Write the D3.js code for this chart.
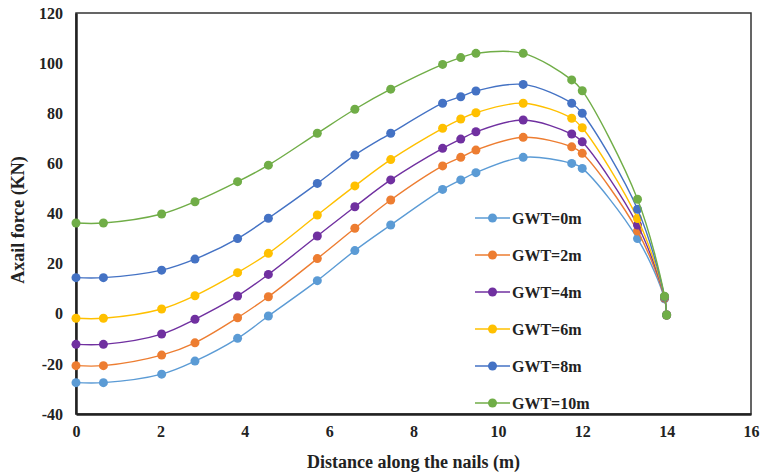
<!DOCTYPE html>
<html>
<head>
<meta charset="utf-8">
<script src="https://cdn.jsdelivr.net/npm/d3@7"></script>
<style>
  body { margin: 0; background: #fff; }
  text { font-family: "Liberation Serif", "Times New Roman", serif; font-weight: bold; fill: #222; }
</style>
</head>
<body>
<script>
const distance = [0, 0.65, 2.03, 2.82, 3.83, 4.56, 5.72, 6.61, 7.46, 8.69, 9.12, 9.48, 10.6, 11.75, 12.0, 13.31, 13.95, 14.0];

const gwt0  = [-27.5, -27.5, -24.1, -18.9, -9.8, -0.9, 13.2, 25.2, 35.4, 49.6, 53.4, 56.3, 62.4, 60, 58, 30, 6, -0.5];
const gwt2  = [-20.7, -20.7, -16.5, -11.6, -1.6, 6.8, 22, 34.1, 45.4, 59, 62.4, 65.3, 70.4, 66.6, 64, 33, 6.3, -0.5];
const gwt4  = [-12.2, -12.2, -8.1, -2.2, 7.1, 15.7, 31, 42.7, 53.4, 66, 69.7, 72.6, 77.3, 71.7, 68.6, 35.4, 6.5, -0.5];
const gwt6  = [-1.8, -1.8, 1.9, 7.2, 16.4, 24.1, 39.4, 51, 61.5, 74, 77.7, 80.2, 84, 78, 74.2, 38, 6.7, -0.5];
const gwt8  = [14.4, 14.4, 17.4, 21.8, 30, 38.1, 52, 63.3, 72, 84, 86.6, 88.9, 91.5, 84, 80, 41.7, 6.8, -0.5];
const gwt10 = [36.2, 36.2, 39.8, 44.7, 52.7, 59.3, 72, 81.6, 89.6, 99.5, 102.2, 103.9, 103.9, 93.3, 89, 45.7, 7, -0.5];

const seriesNames = ["GWT=0m", "GWT=2m", "GWT=4m", "GWT=6m", "GWT=8m", "GWT=10m"];
const seriesColors = ["#5B9BD5", "#ED7D31", "#7030A0", "#FFC000", "#4472C4", "#70AD47"];
const xTicks = [0, 2, 4, 6, 8, 10, 12, 14, 16];
const yTicks = [-40, -20, 0, 20, 40, 60, 80, 100, 120];

const allSeries = [gwt0, gwt2, gwt4, gwt6, gwt8, gwt10].map((vals, i) => ({
    name: seriesNames[i],
    color: seriesColors[i],
    points: vals.map((v, j) => ({ x: distance[j], y: v }))
}));

const W = 763, H = 476;
const margin = { top: 13, right: 12, bottom: 62, left: 76 },
      width = W - margin.left - margin.right,
      height = H - margin.top - margin.bottom;

const svg = d3.select("body").append("svg")
    .attr("width", W)
    .attr("height", H);

const g = svg.append("g")
    .attr("transform", `translate(${margin.left},${margin.top})`);

const x = d3.scaleLinear().domain([0, 16]).range([0, width]);
const y = d3.scaleLinear().domain([-40, 120]).range([height, 0]);

// plot frame
g.append("rect")
    .attr("width", width)
    .attr("height", height)
    .attr("fill", "none")
    .attr("stroke", "#333")
    .attr("stroke-width", 1.5);

const xAxis = g.append("g")
    .attr("transform", `translate(0,${height})`)
    .call(d3.axisBottom(x).tickValues(xTicks).tickSize(0).tickPadding(12));
xAxis.select(".domain").attr("stroke", "#222").attr("stroke-width", 2.5);
xAxis.selectAll("text").style("font-size", "16px").attr("font-family", null);

const yAxis = g.append("g")
    .call(d3.axisLeft(y).tickValues(yTicks).tickFormat(d => String(d)).tickSize(0).tickPadding(13));
yAxis.select(".domain").attr("stroke", "#222").attr("stroke-width", 2.5);
yAxis.selectAll("text").style("font-size", "16px").attr("font-family", null);

const line = d3.line()
    .x(d => x(d.x))
    .y(d => y(d.y))
    .curve(d3.curveCatmullRom.alpha(0.5));

allSeries.forEach(s => {
    g.append("path")
        .datum(s.points)
        .attr("fill", "none")
        .attr("stroke", s.color)
        .attr("stroke-width", 1.4)
        .attr("d", line);
    g.selectAll(null)
        .data(s.points)
        .join("circle")
        .attr("cx", d => x(d.x))
        .attr("cy", d => y(d.y))
        .attr("r", 4.5)
        .attr("fill", s.color);
});

// legend
const legend = svg.append("g")
    .attr("transform", "translate(475,218)");
allSeries.forEach((s, i) => {
    const row = legend.append("g").attr("transform", `translate(0,${i * 37})`);
    row.append("line")
        .attr("x1", 0).attr("x2", 35)
        .attr("stroke", s.color)
        .attr("stroke-width", 1.4);
    row.append("circle")
        .attr("cx", 17.5)
        .attr("r", 4.5)
        .attr("fill", s.color);
    row.append("text")
        .attr("x", 37)
        .attr("dy", "0.35em")
        .style("font-size", "16px")
        .text(s.name);
});

svg.append("text")
    .attr("x", margin.left + width / 2)
    .attr("y", 468)
    .attr("text-anchor", "middle")
    .style("font-size", "18px")
    .text("Distance along the nails (m)");

svg.append("text")
    .attr("transform", `translate(24,220) rotate(-90)`)
    .attr("text-anchor", "middle")
    .style("font-size", "18px")
    .text("Axail force (KN)");
</script>
</body>
</html>
